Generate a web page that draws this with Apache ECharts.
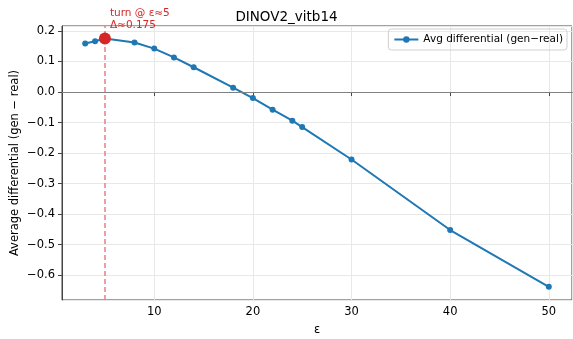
<!DOCTYPE html>
<html>
<head>
<meta charset="utf-8">
<script src="https://cdn.jsdelivr.net/npm/echarts@6/dist/echarts.min.js"></script>
<style>
  html, body { margin: 0; padding: 0; background: #fff; }
  #chart { width: 573px; height: 339px; }
</style>
</head>
<body>
<div id="chart"></div>
<script>
const epsValues = [3, 4, 5, 8, 10, 12, 14, 18, 20, 22, 24, 25, 30, 40, 50];
const avgDiff = [0.159, 0.166, 0.175, 0.162, 0.142, 0.113, 0.081, 0.014, -0.020, -0.058, -0.094, -0.115, -0.221, -0.452, -0.638];
const turnPoint = [5, 0.175];
const turnLabel = 'turn @ ε≈5\nΔ≈0.175';

const font = 'DejaVu Sans';
const chart = echarts.init(document.getElementById('chart'));

const lineData = epsValues.map((e, i) => [e, avgDiff[i]]);

chart.setOption({
    animation: false,
    title: {
        text: 'DINOV2_vitb14',
        left: 'center',
        top: 5,
        textStyle: { fontFamily: font, fontSize: 13.5, fontWeight: 'normal', color: '#000' }
    },
    legend: {
        data: ['Avg differential (gen−real)'],
        right: 6,
        top: 29,
        itemWidth: 24,
        itemHeight: 8,
        itemGap: 8,
        padding: [5, 4, 5, 5],
        borderColor: '#d0d0d0',
        borderWidth: 1,
        borderRadius: 3,
        textStyle: { fontFamily: font, fontSize: 10.5, color: '#000' }
    },
    grid: {
        left: 62, right: 1, top: 26, bottom: 39,
        outerBoundsMode: 'none',
        containLabel: false,
        show: true, borderColor: '#444', borderWidth: 1, backgroundColor: 'transparent'
    },
    xAxis: {
        type: 'value',
        min: 0.65,
        max: 52.35,
        splitNumber: 5,
        name: 'ε',
        nameLocation: 'middle',
        nameGap: 24,
        nameMoveOverlap: false,
        nameTextStyle: { fontFamily: font, fontSize: 11.5, color: '#000' },
        axisLine: { show: true, lineStyle: { color: '#444' } },
        axisTick: { show: true, length: 4, lineStyle: { color: '#444' } },
        axisLabel: { fontFamily: font, fontSize: 11.5, color: '#000', margin: 6, showMinLabel: false, showMaxLabel: false },
        splitLine: { show: true, lineStyle: { color: '#e8e8e8', width: 1 } }
    },
    yAxis: {
        type: 'value',
        min: -0.681,
        max: 0.216,
        splitNumber: 9,
        name: 'Average differential (gen − real)',
        nameLocation: 'middle',
        nameGap: 41,
        nameMoveOverlap: false,
        nameTextStyle: { fontFamily: font, fontSize: 11.5, color: '#000' },
        axisLine: { show: true, lineStyle: { color: '#444' } },
        axisTick: { show: true, length: 4, lineStyle: { color: '#444' } },
        axisLabel: {
            fontFamily: font, fontSize: 11.5, color: '#000', margin: 7,
            showMinLabel: false, showMaxLabel: false,
            formatter: v => {
                const r = Math.round(v * 10) / 10;
                return r < 0 ? '−' + Math.abs(r).toFixed(1) : r.toFixed(1);
            }
        },
        splitLine: { show: true, lineStyle: { color: '#e8e8e8', width: 1 } }
    },
    series: [
        {
            name: 'Avg differential (gen−real)',
            type: 'line',
            data: lineData,
            symbol: 'circle',
            symbolSize: 6,
            itemStyle: { color: '#1f77b4' },
            lineStyle: { color: '#1f77b4', width: 2 },
            z: 3,
            markLine: {
                silent: true,
                symbol: 'none',
                label: { show: false },
                emphasis: { disabled: true },
                data: [
                    { yAxis: 0, lineStyle: { color: '#808080', width: 1, type: 'solid' } },
                    { xAxis: turnPoint[0], lineStyle: { color: '#ea7f80', width: 1.5, type: [5, 3] } }
                ]
            }
        },
        {
            name: 'turn',
            type: 'scatter',
            data: [turnPoint],
            symbolSize: 12,
            itemStyle: { color: '#d62728', opacity: 1 },
            z: 5,
            label: {
                show: true,
                formatter: turnLabel,
                position: [11, -25],
                align: 'left',
                fontFamily: font,
                fontSize: 10.5,
                lineHeight: 12,
                color: '#d62728'
            }
        }
    ]
});
</script>
</body>
</html>
